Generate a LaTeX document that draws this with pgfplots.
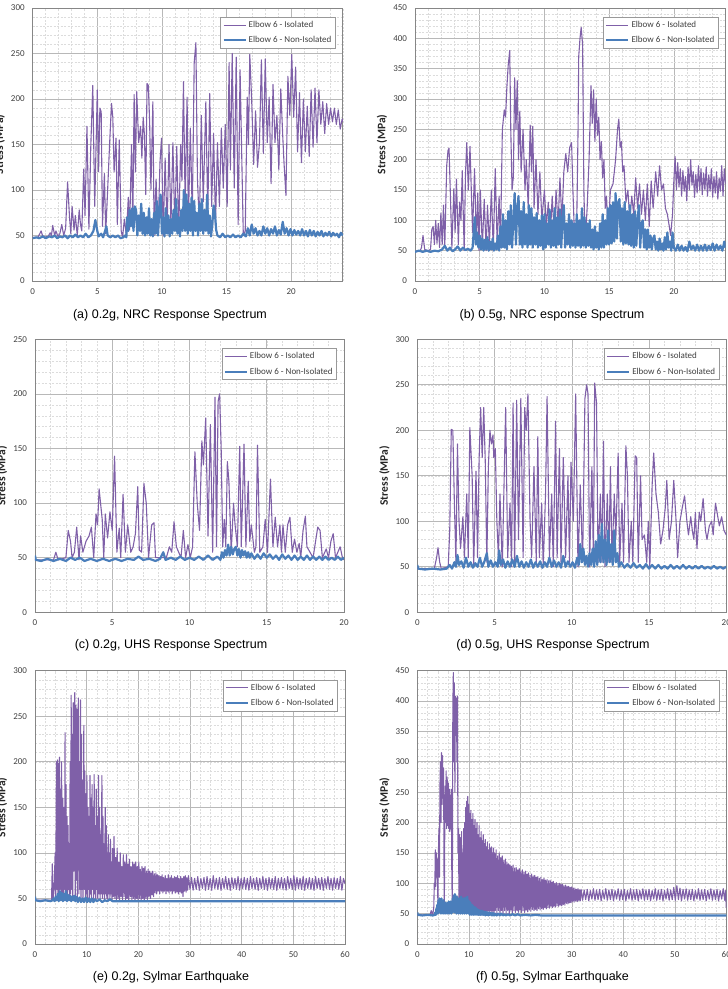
\documentclass[border=0pt]{standalone}
\usepackage{fontspec}
\setmainfont{Liberation Sans}
\newfontfamily\calib{Carlito}
\usepackage{pgfplots}
\pgfplotsset{compat=1.18}
\definecolor{iso}{HTML}{7F60A8}
\definecolor{noniso}{HTML}{4A7EBB}
\definecolor{gridmaj}{HTML}{B8B8B8}
\definecolor{gridmin}{HTML}{DCDCDC}
\definecolor{axgray}{HTML}{868686}
\definecolor{txtgray}{HTML}{404040}
\pgfplotsset{
  panel/.style={
    scale only axis, anchor=south west, height=273pt,
    axis line style={draw=axgray, line width=0.8pt},
    grid=both,
    major grid style={draw=gridmaj, line width=0.6pt},
    minor grid style={draw=gridmin, dash pattern=on 2pt off 1.5pt, line width=0.45pt},
    major tick length=0pt, minor tick length=0pt,
    /pgf/number format/assume math mode=true,
    tick label style={font=\calib\fontsize{9}{10}\selectfont, text=txtgray},
    yticklabel style={xshift=-4.5pt},
    xticklabel style={yshift=-4pt},
    xmin=0, ymin=0,
    ylabel={Stress (MPa)},
    ylabel style={font=\calib\bfseries\fontsize{11.5}{13}\selectfont, text=black!85,
      at={(axis description cs:-0.1065,0.5)}, anchor=center},
    legend entries={Elbow 6 - Isolated, Elbow 6 - Non-Isolated},
    legend cell align=left,
    legend image code/.code={\draw[##1] (0pt,0pt) -- (22pt,0pt);},
    legend style={at={(axis description cs:0.977,0.967)}, anchor=north east,
      draw=gray!80, fill=white, font=\calib\fontsize{9}{11}\selectfont, text=txtgray,
      inner sep=2pt, row sep=3.5pt, /tikz/every even column/.append style={column sep=0pt}},
    every axis plot/.append style={line join=round},
  },
  isol/.style={iso, line width=1.1pt},
  nonisol/.style={noniso, line width=2.2pt},
}
\begin{document}
\begin{tikzpicture}
\useasboundingbox (0pt,0pt) rectangle (728pt,989pt);
% ---------------- (a)
\begin{axis}[panel, at={(32.7pt,708pt)}, width=310.1pt,
  xmax=24, ymax=300, xtick={0,5,...,20}, ytick={0,50,...,300},
  minor xtick={0,1,...,24}, minor ytick={0,10,...,300}]
\addplot[isol] coordinates {(0,48) (0.4,48) (0.55,52) (0.65,55) (0.8,48) (1.2,49) (1.35,53) (1.45,50) (1.55,61) (1.7,50) (1.8,55) (1.95,49) (2.1,52) (2.25,62) (2.4,50) (2.55,58) (2.7,109) (2.85,70) (2.95,52) (3.05,82) (3.2,56) (3.3,72) (3.45,50) (3.6,78) (3.7,62) (3.8,55) (3.95,123) (4.05,72) (4.2,170) (4.35,57) (4.5,150) (4.65,215) (4.8,82) (5.0,210) (5.1,120) (5.2,190) (5.3,186) (5.4,60) (5.55,118) (5.65,52) (5.8,100) (5.95,150) (6.1,195) (6.2,180) (6.3,120) (6.45,157) (6.55,62) (6.7,155) (6.85,55) (6.95,48) (7.1,68) (7.25,50) (7.4,92) (7.5,56) (7.65,150) (7.75,62) (7.85,205) (7.95,120) (8.05,208) (8.2,152) (8.35,170) (8.45,135) (8.55,180) (8.65,160) (8.75,95) (8.85,217) (8.95,215) (9.05,175) (9.15,100) (9.3,197) (9.4,50) (9.55,112) (9.7,50) (9.85,130) (9.97,157) (10.1,50) (10.25,135) (10.4,57) (10.55,150) (10.7,62) (10.85,152) (11.0,58) (11.15,148) (11.3,52) (11.45,150) (11.55,110) (11.67,219) (11.8,82) (11.95,202) (12.05,62) (12.2,168) (12.35,72) (12.5,240) (12.63,262) (12.75,112) (12.9,62) (13.05,182) (13.2,87) (13.4,197) (13.55,72) (13.7,206) (13.85,82) (14.0,162) (14.15,62) (14.3,152) (14.45,82) (14.6,168) (14.75,102) (14.9,172) (15.05,82) (15.2,240) (15.3,122) (15.44,250) (15.6,102) (15.75,246) (15.9,62) (16.05,232) (16.2,122) (16.3,50) (16.45,55) (16.6,202) (16.7,150) (16.8,249) (16.95,198) (17.1,128) (17.25,187) (17.4,125) (17.55,152) (17.7,243) (17.85,140) (18.0,244) (18.15,152) (18.3,202) (18.45,107) (18.6,216) (18.75,152) (18.9,182) (19.05,122) (19.2,211) (19.35,160) (19.45,130) (19.6,94) (19.75,225) (19.9,182) (20.05,249) (20.2,180) (20.35,235) (20.5,142) (20.65,207) (20.8,130) (20.95,200) (21.1,142) (21.25,192) (21.4,137) (21.55,210) (21.7,147) (21.85,212) (22.0,152) (22.15,210) (22.3,172) (22.45,197) (22.6,162) (22.75,195) (22.9,172) (23.05,190) (23.2,175) (23.35,190) (23.5,172) (23.65,188) (23.8,167) (23.95,178) (24.0,175)};
\addplot[nonisol] coordinates {(0,47) (0.3,48) (0.5,47) (0.8,49) (1.0,47) (1.3,49) (1.5,48) (1.7,50) (1.9,47) (2.1,49) (2.3,48) (2.5,50) (2.7,47) (2.9,50) (3.1,48) (3.3,51) (3.5,48) (3.7,50) (3.9,48) (4.1,52) (4.3,48) (4.5,50) (4.7,55) (4.85,67) (5.0,55) (5.1,49) (5.3,52) (5.45,48) (5.6,55) (5.7,60) (5.8,50) (6.0,48) (6.2,50) (6.4,48) (6.6,50) (6.8,47) (7.0,48) (7.15,50) (7.25,48) (7.3,70) (7.4,55) (7.5,78) (7.6,60) (7.7,80) (7.8,55) (7.9,82) (8.0,78) (8.1,50) (8.2,72) (8.3,55) (8.4,85) (8.5,52) (8.6,75) (8.7,50) (8.8,70) (8.9,52) (9.0,80) (9.1,50) (9.2,68) (9.3,49) (9.4,75) (9.5,52) (9.6,88) (9.7,50) (9.8,78) (9.9,95) (10.0,52) (10.1,70) (10.2,49) (10.3,80) (10.4,52) (10.5,72) (10.6,49) (10.7,68) (10.8,52) (10.9,78) (11.0,55) (11.1,90) (11.2,52) (11.3,70) (11.4,49) (11.5,78) (11.6,55) (11.7,100) (11.8,55) (11.9,95) (12.0,52) (12.1,85) (12.2,55) (12.3,92) (12.4,50) (12.5,88) (12.6,55) (12.7,75) (12.8,50) (12.9,85) (13.0,55) (13.1,90) (13.2,52) (13.3,78) (13.4,55) (13.5,95) (13.6,52) (13.7,72) (13.8,49) (13.9,62) (14.0,83) (14.1,75) (14.2,56) (14.3,50) (14.5,48) (14.7,52) (14.9,48) (15.1,50) (15.3,48) (15.5,51) (15.7,48) (15.9,50) (16.1,48) (16.3,52) (16.5,49) (16.65,58) (16.8,50) (16.95,62) (17.1,52) (17.25,58) (17.4,50) (17.55,55) (17.7,50) (17.85,60) (18.0,52) (18.15,58) (18.3,50) (18.45,57) (18.6,52) (18.75,60) (18.9,50) (19.05,56) (19.2,51) (19.35,65) (19.5,52) (19.65,58) (19.8,50) (19.95,57) (20.1,50) (20.25,56) (20.4,51) (20.55,55) (20.7,50) (20.85,57) (21.0,50) (21.15,55) (21.3,49) (21.45,56) (21.6,50) (21.75,55) (21.9,49) (22.05,54) (22.2,50) (22.35,55) (22.5,49) (22.65,53) (22.8,50) (22.95,54) (23.1,49) (23.25,53) (23.4,50) (23.55,52) (23.7,48) (23.85,53) (24.0,50)};
\end{axis}
% ---------------- (b)
\begin{axis}[panel, at={(415pt,708pt)}, width=310.6pt,
  xmax=24, ymax=450, xtick={0,5,...,20}, ytick={0,50,...,450},
  minor xtick={0,1,...,24}, minor ytick={0,10,...,450}]
\addplot[isol] coordinates {(0,48) (0.4,50) (0.5,55) (0.62,75) (0.75,52) (1.0,50) (1.2,52) (1.3,85) (1.4,90) (1.5,60) (1.6,100) (1.7,62) (1.8,95) (1.9,55) (2.0,112) (2.1,60) (2.2,125) (2.3,55) (2.45,190) (2.55,215) (2.63,219) (2.75,130) (2.85,55) (3.0,152) (3.1,80) (3.2,168) (3.35,60) (3.45,130) (3.55,100) (3.65,182) (3.8,50) (3.9,175) (4.0,228) (4.12,150) (4.25,222) (4.35,150) (4.45,80) (4.6,185) (4.75,60) (4.85,145) (4.95,50) (5.05,150) (5.2,55) (5.35,135) (5.5,50) (5.6,125) (5.75,60) (5.9,150) (6.05,50) (6.2,185) (6.35,60) (6.5,140) (6.6,55) (6.75,250) (6.9,282) (7.0,270) (7.1,320) (7.2,355) (7.32,380) (7.4,250) (7.5,150) (7.6,172) (7.7,335) (7.8,250) (7.9,330) (8.0,200) (8.1,280) (8.2,180) (8.35,250) (8.5,150) (8.6,200) (8.75,120) (8.9,257) (9.0,180) (9.1,255) (9.2,120) (9.35,200) (9.5,110) (9.65,180) (9.8,100) (10.0,150) (10.15,90) (10.3,130) (10.45,70) (10.6,140) (10.75,80) (10.9,150) (11.05,90) (11.2,170) (11.35,100) (11.5,180) (11.65,210) (11.8,180) (11.95,220) (12.1,228) (12.2,150) (12.35,60) (12.5,100) (12.6,250) (12.65,370) (12.75,400) (12.84,418) (12.95,390) (13.05,150) (13.15,60) (13.3,120) (13.45,200) (13.6,322) (13.7,260) (13.8,315) (13.9,230) (14.0,300) (14.1,240) (14.2,270) (14.3,200) (14.4,230) (14.5,170) (14.6,200) (14.7,120) (14.8,140) (14.9,90) (15.0,110) (15.1,150) (15.3,160) (15.5,200) (15.65,250) (15.75,267) (15.85,220) (15.95,230) (16.05,180) (16.15,190) (16.3,130) (16.45,150) (16.6,100) (16.75,140) (16.9,110) (17.05,170) (17.2,120) (17.35,160) (17.5,110) (17.65,150) (17.8,100) (17.95,160) (18.1,90) (18.25,165) (18.4,120) (18.6,180) (18.75,140) (18.9,190) (19.05,150) (19.2,160) (19.35,120) (19.5,110) (19.65,90) (19.75,75) (19.9,110) (20.0,165) (20.1,205) (20.2,150) (20.3,195) (20.4,155) (20.5,185) (20.6,140) (20.7,182) (20.8,148) (20.9,172) (21.0,132) (21.1,188) (21.2,150) (21.3,200) (21.4,158) (21.5,180) (21.6,138) (21.7,176) (21.8,145) (21.9,190) (22.0,150) (22.1,185) (22.2,142) (22.3,178) (22.4,150) (22.5,188) (22.6,140) (22.7,175) (22.8,148) (22.9,185) (23.0,138) (23.1,172) (23.2,145) (23.3,180) (23.4,135) (23.5,170) (23.6,148) (23.7,190) (23.8,140) (23.9,185) (24.0,160)};
\addplot[nonisol] coordinates {(0,48) (0.3,50) (0.6,48) (0.9,50) (1.2,48) (1.5,50) (1.8,49) (2.1,52) (2.3,58) (2.5,50) (2.7,55) (2.9,49) (3.1,52) (3.3,57) (3.5,50) (3.7,55) (3.9,51) (4.1,53) (4.3,50) (4.45,55) (4.55,85) (4.62,105) (4.7,60) (4.8,80) (4.9,55) (5.0,75) (5.1,52) (5.2,70) (5.3,50) (5.4,68) (5.5,52) (5.6,72) (5.7,50) (5.8,65) (5.9,52) (6.0,70) (6.1,50) (6.2,62) (6.3,52) (6.4,75) (6.5,50) (6.6,90) (6.7,55) (6.8,110) (6.9,55) (7.0,100) (7.1,52) (7.2,115) (7.3,60) (7.4,125) (7.5,55) (7.6,100) (7.7,145) (7.8,60) (7.9,120) (8.0,140) (8.1,60) (8.2,115) (8.3,55) (8.4,130) (8.5,60) (8.6,110) (8.7,55) (8.8,125) (8.9,60) (9.0,120) (9.1,55) (9.2,105) (9.3,60) (9.4,112) (9.5,55) (9.6,100) (9.7,58) (9.8,108) (9.9,52) (10.0,110) (10.1,55) (10.2,95) (10.3,60) (10.4,118) (10.5,55) (10.6,100) (10.7,58) (10.8,120) (10.9,55) (11.0,105) (11.1,60) (11.2,118) (11.3,55) (11.4,100) (11.5,125) (11.6,55) (11.7,95) (11.8,60) (11.9,110) (12.0,55) (12.1,100) (12.2,58) (12.3,95) (12.4,55) (12.5,110) (12.6,58) (12.7,100) (12.8,55) (12.9,120) (13.0,58) (13.1,105) (13.2,55) (13.3,95) (13.4,58) (13.5,100) (13.6,55) (13.7,85) (13.8,52) (13.9,90) (14.0,55) (14.1,80) (14.2,52) (14.3,95) (14.4,55) (14.5,110) (14.6,55) (14.7,100) (14.8,60) (14.9,120) (15.0,60) (15.1,125) (15.2,62) (15.3,130) (15.4,65) (15.5,145) (15.6,70) (15.7,130) (15.8,135) (15.9,65) (16.0,120) (16.1,60) (16.2,130) (16.3,62) (16.4,115) (16.5,60) (16.6,125) (16.7,58) (16.8,110) (16.9,55) (17.0,115) (17.1,58) (17.2,100) (17.3,125) (17.4,55) (17.5,95) (17.6,100) (17.7,55) (17.8,85) (17.9,52) (18.0,85) (18.1,55) (18.2,75) (18.3,52) (18.4,70) (18.5,75) (18.6,52) (18.7,65) (18.8,50) (18.9,70) (19.0,52) (19.1,62) (19.2,50) (19.3,72) (19.4,52) (19.5,80) (19.6,55) (19.7,65) (19.8,50) (19.9,80) (20.0,55) (20.15,50) (20.3,60) (20.45,50) (20.6,58) (20.75,50) (20.9,56) (21.05,49) (21.2,65) (21.35,52) (21.5,58) (21.65,50) (21.8,60) (21.95,50) (22.1,58) (22.25,50) (22.4,60) (22.55,50) (22.7,58) (22.85,51) (23.0,62) (23.15,50) (23.3,60) (23.45,52) (23.6,58) (23.75,50) (23.9,65) (24.0,55)};
\end{axis}
% ---------------- (c)
\begin{axis}[panel, at={(35pt,376.7pt)}, width=309pt,
  xmax=20, ymax=250, xtick={0,5,...,20}, ytick={0,50,...,250},
  minor xtick={0,1,...,20}, minor ytick={0,10,...,250}]
\addplot[isol] coordinates {(0,48) (1.2,48) (1.35,55) (1.5,48) (2.0,50) (2.15,75) (2.3,65) (2.4,50) (2.55,55) (2.7,78) (2.85,48) (2.95,70) (3.1,55) (3.3,65) (3.5,70) (3.65,78) (3.8,50) (3.95,90) (4.05,80) (4.15,113) (4.35,85) (4.45,50) (4.55,90) (4.7,68) (4.85,92) (5.0,75) (5.15,143) (5.3,55) (5.45,77) (5.55,50) (5.7,108) (5.85,55) (6.0,80) (6.2,55) (6.35,60) (6.5,72) (6.65,115) (6.75,57) (6.9,55) (7.05,118) (7.2,100) (7.35,50) (7.55,80) (7.7,82) (7.8,50) (8.5,50) (8.7,60) (8.85,55) (9.0,83) (9.15,60) (9.3,55) (9.45,50) (9.6,75) (9.75,50) (9.9,62) (10.05,50) (10.2,60) (10.35,147) (10.5,100) (10.65,75) (10.8,157) (10.9,135) (11.05,178) (11.2,70) (11.35,172) (11.5,55) (11.65,197) (11.75,60) (11.85,193) (11.95,200) (12.05,150) (12.15,60) (12.25,85) (12.35,60) (12.45,138) (12.55,120) (12.7,55) (12.85,100) (12.95,80) (13.1,60) (13.25,152) (13.35,60) (13.53,154) (13.65,60) (13.8,120) (13.9,65) (14.0,80) (14.2,55) (14.3,60) (14.4,153) (14.55,55) (14.75,60) (14.9,85) (15.05,55) (15.24,122) (15.4,60) (15.55,87) (15.7,60) (15.85,80) (15.95,55) (16.05,80) (16.2,55) (16.35,80) (16.5,87) (16.65,55) (16.8,67) (16.95,55) (17.1,63) (17.2,50) (17.35,75) (17.5,88) (17.6,60) (17.8,55) (18.0,50) (18.3,78) (18.45,75) (18.6,50) (18.85,58) (19.0,50) (19.15,65) (19.3,72) (19.45,50) (19.75,60) (19.9,50) (20.0,48)};
\addplot[nonisol] coordinates {(0,52) (0.05,48) (0.4,47) (0.8,49) (1.2,47) (1.6,49) (2.0,47) (2.3,50) (2.6,48) (2.9,50) (3.2,47) (3.6,49) (4.0,47) (4.4,49) (4.8,47) (5.2,49) (5.6,47) (6.0,49) (6.4,48) (6.7,51) (7.0,48) (7.4,49) (7.8,47) (8.1,49) (8.3,55) (8.45,48) (8.8,50) (9.1,48) (9.4,51) (9.7,48) (10.0,50) (10.3,48) (10.6,51) (10.9,48) (11.2,52) (11.5,48) (11.8,51) (12.0,48) (12.1,55) (12.2,50) (12.3,57) (12.4,52) (12.5,62) (12.6,52) (12.7,60) (12.8,53) (12.9,58) (13.0,60) (13.1,52) (13.2,58) (13.3,50) (13.4,57) (13.5,52) (13.6,56) (13.7,50) (13.8,55) (13.9,50) (14.0,54) (14.2,49) (14.4,53) (14.6,49) (14.8,54) (15.0,50) (15.2,53) (15.4,49) (15.6,52) (15.8,48) (16.0,53) (16.2,49) (16.4,52) (16.6,48) (16.8,52) (17.0,48) (17.2,51) (17.4,48) (17.6,52) (17.8,48) (18.0,51) (18.2,48) (18.4,51) (18.6,48) (18.8,51) (19.0,48) (19.2,50) (19.4,48) (19.6,51) (19.8,48) (20.0,50)};
\end{axis}
% ---------------- (d)
\begin{axis}[panel, at={(417.3pt,376.7pt)}, width=309pt,
  xmax=20, ymax=300, xtick={0,5,...,20}, ytick={0,50,...,300},
  minor xtick={0,1,...,20}, minor ytick={0,10,...,300}]
\addplot[isol] coordinates {(0,48) (1.1,48) (1.25,60) (1.34,71) (1.45,55) (1.55,48) (2.0,50) (2.1,90) (2.2,201) (2.3,200) (2.4,120) (2.5,55) (2.6,185) (2.7,100) (2.8,70) (2.95,105) (3.05,60) (3.2,130) (3.3,60) (3.4,203) (3.55,150) (3.65,50) (3.8,155) (3.9,60) (4.0,168) (4.1,225) (4.2,170) (4.3,225) (4.4,165) (4.5,55) (4.6,160) (4.7,200) (4.8,185) (4.9,195) (4.95,170) (5.05,180) (5.15,100) (5.25,60) (5.35,130) (5.5,50) (5.72,225) (5.85,60) (6.0,120) (6.1,50) (6.2,230) (6.3,50) (6.43,233) (6.55,80) (6.7,235) (6.85,60) (6.95,225) (7.05,200) (7.16,240) (7.3,100) (7.4,60) (7.55,160) (7.7,55) (7.8,193) (7.9,60) (8.05,120) (8.15,50) (8.3,130) (8.4,237) (8.55,60) (8.7,130) (8.8,50) (8.95,210) (9.05,60) (9.2,180) (9.3,55) (9.45,170) (9.6,60) (9.75,150) (9.85,55) (9.95,165) (10.1,100) (10.25,240) (10.4,50) (10.55,140) (10.7,55) (10.85,235) (10.96,250) (11.05,240) (11.15,50) (11.3,160) (11.4,55) (11.48,252) (11.6,230) (11.7,55) (11.85,130) (11.95,55) (12.05,188) (12.15,50) (12.3,130) (12.4,55) (12.5,160) (12.6,55) (12.75,130) (12.85,80) (13.0,175) (13.1,55) (13.25,120) (13.35,55) (13.5,183) (13.6,150) (13.7,55) (13.85,100) (13.95,55) (14.1,172) (14.2,170) (14.3,55) (14.45,150) (14.55,80) (14.7,85) (14.85,55) (14.95,100) (15.05,50) (15.2,140) (15.3,175) (15.45,130) (15.6,110) (15.75,75) (15.9,90) (16.05,115) (16.15,145) (16.3,80) (16.45,100) (16.6,145) (16.75,100) (16.85,60) (17.0,100) (17.15,115) (17.3,128) (17.45,100) (17.55,85) (17.7,105) (17.8,90) (17.9,80) (18.0,110) (18.1,70) (18.25,110) (18.35,100) (18.5,125) (18.65,90) (18.75,80) (18.9,95) (19.05,100) (19.15,85) (19.3,120) (19.45,105) (19.55,95) (19.7,105) (19.85,90) (20.0,85)};
\addplot[nonisol] coordinates {(0,52) (0.05,48) (0.5,47) (1.0,48) (1.5,47) (1.9,48) (2.1,52) (2.25,48) (2.4,55) (2.5,50) (2.6,63) (2.7,52) (2.85,56) (3.0,49) (3.15,60) (3.3,50) (3.45,55) (3.6,49) (3.75,54) (3.9,50) (4.05,60) (4.2,50) (4.35,56) (4.5,65) (4.6,50) (4.75,57) (4.9,50) (5.05,55) (5.2,50) (5.3,68) (5.4,52) (5.55,58) (5.7,49) (5.85,56) (6.0,50) (6.15,58) (6.3,50) (6.45,62) (6.6,50) (6.75,56) (6.9,49) (7.05,55) (7.2,50) (7.35,58) (7.5,49) (7.65,55) (7.8,50) (7.95,56) (8.1,49) (8.25,55) (8.4,50) (8.55,60) (8.7,50) (8.85,57) (9.0,50) (9.15,55) (9.3,49) (9.45,62) (9.6,50) (9.75,56) (9.9,50) (10.05,55) (10.2,49) (10.35,60) (10.45,52) (10.55,75) (10.65,55) (10.75,70) (10.85,52) (10.95,62) (11.05,50) (11.15,65) (11.25,52) (11.35,70) (11.45,50) (11.55,78) (11.65,52) (11.75,85) (11.85,55) (11.95,97) (12.05,55) (12.15,80) (12.25,52) (12.35,90) (12.45,55) (12.55,75) (12.65,52) (12.75,90) (12.85,55) (12.95,65) (13.05,50) (13.2,55) (13.4,49) (13.6,53) (13.8,49) (14.0,54) (14.2,49) (14.4,52) (14.6,48) (14.8,53) (15.0,48) (15.2,52) (15.4,48) (15.6,52) (15.8,48) (16.0,51) (16.2,48) (16.4,52) (16.6,48) (16.8,51) (17.0,48) (17.2,52) (17.4,48) (17.6,51) (17.8,48) (18.0,51) (18.2,48) (18.4,51) (18.6,48) (18.8,50) (19.0,48) (19.2,51) (19.4,48) (19.6,50) (19.8,48) (20.0,50)};
\end{axis}
% ---------------- (e)
\begin{axis}[panel, at={(35pt,45pt)}, width=310pt, height=273.3pt,
  xmax=60, ymax=300, xtick={0,10,...,60}, ytick={0,50,...,300},
  minor xtick={0,2,...,60}, minor ytick={0,10,...,300}]
\addplot[isol] coordinates {(0,48) (3.2,48) (3.35,88) (3.5,48) (3.7,60) (3.9,100) (4.0,48) (4.15,200) (4.25,60) (4.35,202) (4.45,50) (4.55,198) (4.65,55) (4.75,205) (4.85,60) (4.95,170) (5.05,50) (5.15,200) (5.25,55) (5.4,160) (5.5,50) (5.65,150) (5.75,60) (5.82,232) (5.9,50) (6.0,175) (6.1,55) (6.2,140) (6.3,48) (6.4,130) (6.5,60) (6.6,110) (6.7,50) (6.8,200) (6.9,55) (7.0,273) (7.1,60) (7.2,230) (7.3,50) (7.4,265) (7.5,80) (7.6,250) (7.7,276) (7.8,50) (7.9,262) (8.0,70) (8.1,258) (8.2,50) (8.3,240) (8.4,270) (8.5,55) (8.6,200) (8.7,60) (8.8,268) (8.9,50) (9.0,230) (9.1,60) (9.2,180) (9.3,50) (9.45,240) (9.55,60) (9.65,190) (9.75,50) (9.85,165) (9.95,55) (10.05,185) (10.15,48) (10.25,150) (10.35,60) (10.45,140) (10.55,50) (10.65,185) (10.75,55) (10.85,160) (10.95,48) (11.05,175) (11.15,60) (11.25,150) (11.35,50) (11.45,186) (11.55,55) (11.65,130) (11.75,48) (11.85,170) (11.95,60) (12.05,140) (12.15,50) (12.3,185) (12.4,55) (12.5,150) (12.6,48) (12.7,120) (12.8,55) (12.95,185) (13.05,50) (13.15,140) (13.25,55) (13.35,110) (13.45,48) (13.6,150) (13.7,55) (13.8,130) (13.9,50) (14.0,100) (14.1,48) (14.2,120) (14.3,55) (14.4,100) (14.5,48) (14.6,115) (14.7,55) (14.8,90) (14.9,48) (15.0,105) (15.15,52) (15.3,118) (15.45,50) (15.6,95) (15.75,48) (15.9,105) (16.05,50) (16.2,90) (16.35,48) (16.5,100) (16.65,52) (16.8,85) (16.95,48) (17.1,98) (17.25,52) (17.4,90) (17.55,48) (17.7,98) (17.85,50) (18.0,88) (18.15,48) (18.3,93) (18.45,52) (18.6,85) (18.75,48) (18.9,90) (19.05,50) (19.2,88) (19.35,48) (19.5,90) (19.65,50) (19.8,85) (19.95,48) (20.1,90) (20.25,50) (20.4,82) (20.55,48) (20.7,85) (20.85,50) (21.0,83) (21.15,48) (21.3,85) (21.45,50) (21.6,80) (21.75,49) (21.9,82) (22.05,52) (22.2,80) (22.35,50) (22.5,78) (22.65,54) (22.8,80) (22.95,52) (23.1,77) (23.25,56) (23.4,78) (23.55,55) (23.7,76) (23.85,58) (24.0,75) (24.15,55) (24.3,74) (24.45,58) (24.6,76) (24.75,56) (24.9,73) (25.05,58) (25.2,75) (25.35,55) (25.5,72) (25.65,58) (25.8,76) (25.95,56) (26.1,73) (26.25,58) (26.4,75) (26.55,55) (26.7,72) (26.85,58) (27.0,74) (27.15,56) (27.3,73) (27.45,57) (27.6,75) (27.75,55) (27.9,72) (28.05,57) (28.2,74) (28.35,56) (28.5,72) (28.65,52) (28.8,74) (28.95,58) (29.1,75) (29.25,57) (29.4,73) (29.55,59) (29.7,75) (30.0,60) (30.3,73) (30.6,59) (30.9,72) (31.2,60) (31.5,74) (31.8,59) (32.1,72) (32.4,61) (32.7,73) (33.0,59) (33.3,74) (33.6,60) (33.9,72) (34.2,59) (34.5,75) (34.8,61) (35.1,72) (35.4,60) (35.7,73) (36.0,59) (36.3,72) (36.6,61) (36.9,74) (37.2,60) (37.5,72) (37.8,59) (38.1,73) (38.4,61) (38.7,72) (39.0,60) (39.3,74) (39.6,59) (39.9,72) (40.2,61) (40.5,73) (40.8,60) (41.1,72) (41.4,59) (41.7,74) (42.0,61) (42.3,72) (42.6,60) (42.9,73) (43.2,59) (43.5,72) (43.8,61) (44.1,74) (44.4,60) (44.7,72) (45.0,59) (45.3,73) (45.6,61) (45.9,72) (46.2,60) (46.5,74) (46.8,59) (47.1,72) (47.4,61) (47.7,73) (48.0,60) (48.3,72) (48.6,59) (48.9,74) (49.2,61) (49.5,72) (49.8,60) (50.1,75) (50.4,59) (50.7,73) (51.0,61) (51.3,72) (51.6,60) (51.9,74) (52.2,59) (52.5,72) (52.8,61) (53.1,73) (53.4,60) (53.7,72) (54.0,59) (54.3,74) (54.6,61) (54.9,72) (55.2,60) (55.5,73) (55.8,59) (56.1,72) (56.4,61) (56.7,74) (57.0,60) (57.3,72) (57.6,59) (57.9,73) (58.2,61) (58.5,72) (58.8,60) (59.1,74) (59.4,59) (59.7,72) (60.0,66)};
\addplot[nonisol] coordinates {(0,52) (0.1,48) (1,47) (2,48) (3,47) (3.4,48) (3.6,50) (3.8,47) (4.0,52) (4.2,48) (4.4,55) (4.6,47) (4.8,58) (5.0,48) (5.2,56) (5.4,47) (5.6,55) (5.8,48) (6.0,58) (6.2,47) (6.4,54) (6.6,48) (6.8,53) (7.0,47) (7.2,52) (7.4,48) (7.6,53) (7.8,47) (8.0,52) (8.3,46) (8.6,51) (8.9,46) (9.2,50) (9.5,46) (9.8,51) (10.1,46) (10.4,50) (10.7,46) (11.0,50) (11.3,46) (11.6,49) (12,47) (12.5,49) (13,46) (13.5,48) (14,47) (14.5,49) (15,47) (60,47)};
\end{axis}
% ---------------- (f)
\begin{axis}[panel, at={(417.3pt,45pt)}, width=309pt, height=273.3pt,
  xmax=60, ymax=450, xtick={0,10,...,60}, ytick={0,50,...,450},
  minor xtick={0,2,...,60}, minor ytick={0,10,...,450}]
\addplot[isol] coordinates {(0,48) (2.5,48) (2.7,55) (2.9,50) (3.0,48) (3.2,60) (3.3,100) (3.4,90) (3.5,155) (3.6,95) (3.7,150) (3.8,110) (3.9,140) (4.0,60) (4.1,150) (4.2,190) (4.3,110) (4.4,260) (4.5,300) (4.6,200) (4.7,315) (4.8,230) (4.9,310) (5.0,240) (5.1,290) (5.2,100) (5.25,50) (5.3,150) (5.4,260) (5.5,200) (5.6,285) (5.7,190) (5.8,275) (5.9,195) (6.0,265) (6.1,190) (6.2,255) (6.3,185) (6.4,245) (6.5,190) (6.6,255) (6.7,120) (6.8,55) (6.9,390) (7.0,447) (7.1,300) (7.2,430) (7.3,250) (7.4,408) (7.5,350) (7.6,405) (7.7,300) (7.8,408) (7.9,150) (8.0,190) (8.1,60) (8.2,180) (8.3,50) (8.4,175) (8.5,55) (8.6,185) (8.7,50) (8.8,150) (8.9,55) (9.0,190) (9.1,50) (9.2,200) (9.3,60) (9.4,225) (9.5,50) (9.6,235) (9.7,70) (9.8,243) (9.9,55) (10.0,230) (10.1,50) (10.2,215) (10.3,60) (10.4,220) (10.5,50) (10.6,205) (10.7,55) (10.8,215) (10.9,48) (11.0,195) (11.1,55) (11.2,205) (11.3,50) (11.4,190) (11.5,55) (11.6,200) (11.7,48) (11.8,180) (11.9,55) (12.0,195) (12.1,50) (12.2,175) (12.3,55) (12.4,185) (12.5,48) (12.6,170) (12.7,55) (12.8,180) (12.9,50) (13.0,165) (13.1,55) (13.2,172) (13.3,48) (13.4,160) (13.5,55) (13.6,168) (13.7,50) (13.8,155) (13.9,55) (14.0,165) (14.1,48) (14.2,158) (14.3,55) (14.4,160) (14.5,50) (14.6,150) (14.7,55) (14.8,158) (14.9,48) (15.0,150) (15.15,55) (15.3,155) (15.45,50) (15.6,145) (15.75,55) (15.9,150) (16.05,50) (16.2,142) (16.35,55) (16.5,145) (16.65,50) (16.8,138) (16.95,55) (17.1,140) (17.25,50) (17.4,135) (17.55,55) (17.7,132) (17.85,50) (18.0,130) (18.15,56) (18.3,128) (18.45,50) (18.6,130) (18.75,55) (18.9,125) (19.05,52) (19.2,126) (19.35,55) (19.5,122) (19.65,52) (19.8,124) (19.95,56) (20.1,120) (20.25,52) (20.4,122) (20.55,55) (20.7,118) (20.85,52) (21.0,120) (21.15,56) (21.3,115) (21.45,53) (21.6,117) (21.75,56) (21.9,113) (22.05,54) (22.2,115) (22.35,57) (22.5,112) (22.65,55) (22.8,113) (22.95,57) (23.1,110) (23.25,55) (23.4,111) (23.55,58) (23.7,108) (23.85,56) (24.0,110) (24.15,58) (24.3,106) (24.45,57) (24.6,108) (24.75,60) (24.9,105) (25.05,58) (25.2,106) (25.35,60) (25.5,104) (25.65,59) (25.8,105) (25.95,62) (26.1,102) (26.25,60) (26.4,103) (26.55,62) (26.7,100) (26.85,61) (27.0,101) (27.15,63) (27.3,99) (27.45,62) (27.6,100) (27.75,64) (27.9,98) (28.05,63) (28.2,98) (28.35,65) (28.5,96) (28.65,64) (28.8,97) (28.95,67) (29.1,95) (29.25,66) (29.4,95) (29.55,68) (29.7,93) (29.85,68) (30.0,94) (30.15,70) (30.3,92) (30.45,69) (30.6,92) (30.75,71) (30.9,90) (31.05,70) (31.2,91) (31.35,72) (31.5,89) (31.65,71) (31.8,90) (32.1,72) (32.4,89) (32.7,73) (33.0,90) (33.3,71) (33.6,88) (33.9,74) (34.2,91) (34.5,72) (34.8,89) (35.1,73) (35.4,90) (35.7,71) (36.0,88) (36.3,74) (36.6,91) (36.9,72) (37.2,89) (37.5,73) (37.8,90) (38.1,71) (38.4,88) (38.7,74) (39.0,91) (39.3,72) (39.6,89) (39.9,73) (40.2,90) (40.5,71) (40.8,88) (41.1,74) (41.4,91) (41.7,72) (42.0,89) (42.3,73) (42.6,90) (42.9,71) (43.2,88) (43.5,74) (43.8,91) (44.1,72) (44.4,89) (44.7,73) (45.0,90) (45.3,71) (45.6,88) (45.9,74) (46.2,91) (46.5,72) (46.8,89) (47.1,73) (47.4,90) (47.7,71) (48.0,88) (48.3,74) (48.6,91) (48.9,72) (49.2,89) (49.5,73) (49.8,93) (50.1,72) (50.4,96) (50.7,73) (51.0,92) (51.3,71) (51.6,90) (51.9,74) (52.2,91) (52.5,72) (52.8,89) (53.1,73) (53.4,90) (53.7,71) (54.0,88) (54.3,74) (54.6,91) (54.9,72) (55.2,89) (55.5,73) (55.8,90) (56.1,71) (56.4,88) (56.7,74) (57.0,91) (57.3,72) (57.6,89) (57.9,73) (58.2,90) (58.5,71) (58.8,88) (59.1,74) (59.4,91) (59.7,72) (59.85,88) (60.0,60)};
\addplot[nonisol] coordinates {(0,52) (0.1,48) (1,47) (2,48) (3,47) (3.4,48) (3.5,52) (3.6,48) (3.7,58) (3.8,50) (3.9,65) (4.0,50) (4.1,72) (4.2,52) (4.3,75) (4.4,55) (4.5,70) (4.6,50) (4.7,75) (4.8,52) (4.9,68) (5.0,50) (5.1,72) (5.2,55) (5.3,65) (5.4,50) (5.5,68) (5.6,52) (5.7,60) (5.8,50) (5.9,68) (6.0,52) (6.1,70) (6.2,50) (6.3,65) (6.4,55) (6.5,70) (6.6,50) (6.7,68) (6.8,52) (6.9,75) (7.0,55) (7.1,80) (7.2,52) (7.3,82) (7.4,55) (7.5,75) (7.6,50) (7.7,78) (7.8,55) (7.9,72) (8.0,50) (8.1,75) (8.2,52) (8.3,70) (8.4,50) (8.5,78) (8.6,55) (8.7,72) (8.8,50) (8.9,75) (9.0,52) (9.1,70) (9.2,50) (9.3,76) (9.4,52) (9.5,72) (9.6,50) (9.7,78) (9.8,52) (9.9,72) (10.0,50) (10.1,70) (10.2,48) (10.3,68) (10.4,50) (10.5,65) (10.6,48) (10.7,64) (10.8,50) (10.9,62) (11.0,48) (11.1,60) (11.2,49) (11.3,60) (11.4,48) (11.5,58) (11.6,49) (11.7,57) (11.8,48) (11.9,56) (12.0,48) (12.15,55) (12.3,48) (12.45,55) (12.6,48) (12.75,54) (12.9,48) (13.05,53) (13.2,47) (13.35,53) (13.5,48) (13.65,52) (13.8,47) (13.95,52) (14.1,48) (14.3,51) (14.5,47) (14.7,51) (14.9,47) (15.1,50) (15.4,47) (15.7,50) (16.0,47) (16.3,50) (16.6,47) (16.9,49) (17.2,47) (17.6,49) (18,47) (18.5,49) (19,47) (19.5,49) (20,47) (21,48) (22,47) (23,48) (24,47) (60,47)};
\end{axis}
% captions
\node[font=\fontsize{12.5}{14}\selectfont] at (170pt,674pt) {(a) 0.2g, NRC Response Spectrum};
\node[font=\fontsize{12.5}{14}\selectfont] at (552pt,674pt) {(b) 0.5g, NRC esponse Spectrum};
\node[font=\fontsize{12.5}{14}\selectfont] at (171pt,344pt) {(c) 0.2g, UHS Response Spectrum};
\node[font=\fontsize{12.5}{14}\selectfont] at (553pt,344pt) {(d) 0.5g, UHS Response Spectrum};
\node[font=\fontsize{12.5}{14}\selectfont] at (171pt,12pt) {(e) 0.2g, Sylmar Earthquake};
\node[font=\fontsize{12.5}{14}\selectfont] at (552.5pt,12pt) {(f) 0.5g, Sylmar Earthquake};
\end{tikzpicture}
\end{document}
